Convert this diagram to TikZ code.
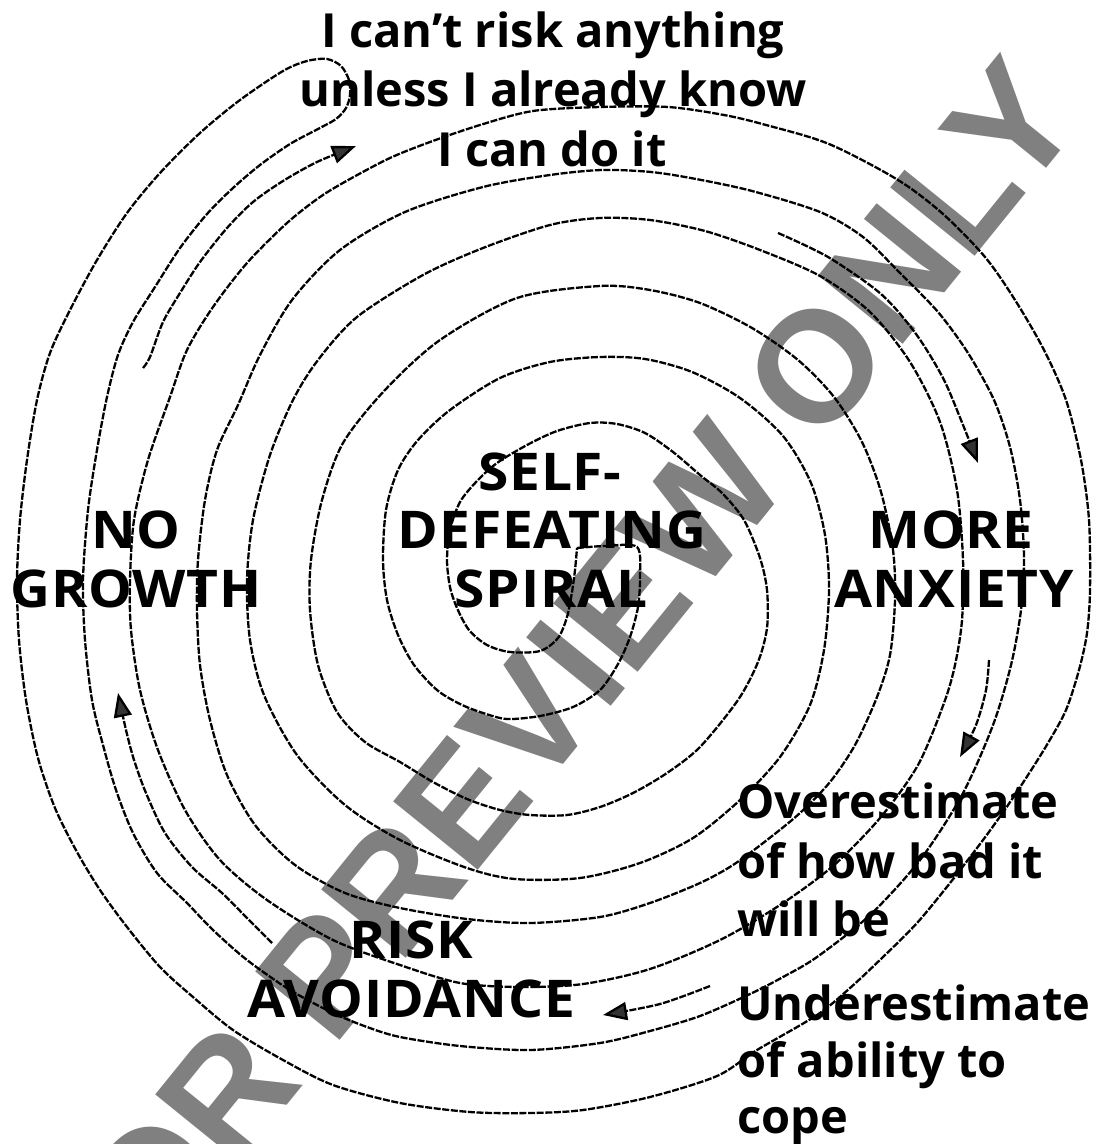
\documentclass[tikz,border=0pt]{standalone}
\usepackage{fontspec}
\setmainfont{Open Sans}
\newfontfamily\capfont{Open Sans}[FakeStretch=1.06, LetterSpace=1.5]
\newfontfamily\wmfont{Liberation Sans}
\usetikzlibrary{arrows.meta}
\tikzset{
  spiral/.style={line width=1.15pt, black, dash pattern=on 3.5pt off 0.8pt, line join=round},
  flow/.style={spiral, -{Triangle[length=12pt,width=9pt,fill=black!80]}},
  big/.style={font=\capfont\fontsize{26}{30}\selectfont\bfseries, inner sep=0pt, anchor=base},
  small/.style={font=\fontsize{23.5}{30}\selectfont\bfseries, inner sep=0pt},
  wm/.style={font=\wmfont\fontsize{79}{80}\selectfont\bfseries, text=black!50, rotate=51, inner sep=0pt}
}
\begin{document}
\begin{tikzpicture}[x=0.5pt,y=-0.5pt]
\useasboundingbox (0,0) rectangle (1096,1144);
\fill[white] (0,0) rectangle (1096,1144);
% watermark
\node[wm] (wmark) at (549,696) {FOR PREVIEW ONLY};
% double spiral
\draw[spiral] plot[smooth, tension=0.5] coordinates {
(577,548) (605,546) (637,547) (640,577) (638,607) (630,637) (618,664) (600,690) (573,707) (540,716) (507,719)
(483,713) (460,704) (437,690) (414,665) (398,635) (387,600) (383,560) (386,510) (398,470) (418,440) (450,410)
(500,378) (550,362) (600,357) (645,359) (692,372) (740,398) (783,436) (811,483) (825,535) (829,590) (824,650) (810,705)
(780,757) (740,800) (693,838) (640,863) (580,878) (515,879) (467,868) (400,840) (345,805) (297,755) (264,695) (250,640)
(247,580) (253,520) (270,455) (293,400) (318,360) (357,317) (423,275) (483,248) (550,225) (600,218) (650,220) (705,231)
(760,250) (820,276) (870,312) (910,362) (940,422) (957,490) (963,560) (962,620) (955,665) (944,703) (918,765) (880,818)
(833,866) (780,905) (720,940) (650,969) (583,984) (520,987) (460,983) (400,965) (333,940) (267,900) (220,860) (185,810)
(158,750) (140,690) (131,630) (130,580) (134,520) (148,460) (170,397) (187,350) (213,307) (247,263) (287,223) (320,197)
(350,179) (390,158) (430,142) (480,125) (533,111) (600,107) (668,107) (724,115) (766,125) (829,144) (898,180) (943,214)
(985,257) (1015,300) (1044,350) (1066,400) (1081,460) (1089,520) (1090,590) (1087,633) (1079,670) (1066,710) (1048,743)
(1028,775) (1006,808) (983,840) (950,883) (917,923) (883,957) (850,988) (817,1015) (757,1050) (717,1076) (650,1097)
(583,1110) (530,1113) (470,1112) (400,1103) (333,1085) (283,1060) (233,1030) (193,997) (160,967) (127,927) (100,890)
(77,852) (55,808) (38,758) (26,700) (19,640) (17,580) (20,520) (27,460) (37,400) (50,353) (70,310) (97,260) (127,213)
(160,173) (200,133) (240,100) (283,71) (307,61) (327,59) (341,66) (349,80) (350,95) (346,108) (336,119) (318,129)
(290,144) (260,165) (233,188) (207,214) (180,248) (155,287) (133,322) (118,355) (107,397) (97,450) (88,510) (83,580)
(85,640) (92,700) (103,745) (116,790) (133,833) (157,873) (187,903) (213,930) (247,960) (290,990) (333,1013) (367,1027)
(400,1037) (460,1046) (530,1050) (600,1043) (650,1031) (700,1016) (750,994) (783,977) (817,957) (870,915) (920,860)
(962,795) (993,725) (1011,665) (1021,610) (1024,557) (1020,500) (1010,447) (994,400) (968,353) (938,312) (900,273)
(863,237) (820,212) (752,191) (696,179) (651,172) (602,170) (550,175) (483,187) (405,212) (340,250) (292,300) (260,355)
(238,405) (217,450) (205,500) (198,560) (197,610) (200,665) (210,720) (227,775) (255,825) (295,865) (345,893) (400,908)
(467,919) (530,923) (600,917) (650,903) (700,883) (733,865) (767,840) (800,813) (830,782) (855,745) (877,697) (890,655)
(895,600) (893,550) (881,492) (862,442) (834,397) (798,360) (752,328) (700,303) (650,290) (600,286) (517,298) (440,340)
(385,390) (343,443) (322,500) (311,560) (310,610) (318,665) (337,712) (365,742) (400,762) (433,782) (467,799) (500,810)
(530,815) (567,815) (600,807) (633,793) (667,773) (700,747) (738,700) (758,662) (767,628) (767,590) (760,558) (744,520)
(722,493) (700,475) (673,452) (645,433) (617,424) (590,423) (557,431) (527,445) (497,463) (477,481) (460,502) (450,530)
(447,560) (450,587) (457,608) (469,630) (487,645) (510,652) (540,651) (558,638) (567,617) (572,592) (575,570) (577,548)};
% flow arrows
\draw[flow] plot[smooth] coordinates {(143,368) (150,357) (163,322) (180,293) (200,262) (227,228) (253,202) (283,181) (317,162) (356,146)};
\draw[flow] plot[smooth] coordinates {(778,233) (828,257) (881,294) (916,334) (943,378) (961,420) (978,463)};
\draw[flow] plot[smooth] coordinates {(989,660) (986,690) (976,725) (960,757)};
\draw[flow] plot[smooth] coordinates {(710,986) (660,1004) (603,1015)};
\draw[flow] plot[smooth] coordinates {(272,943) (249,920) (222,893) (192,867) (165,833) (146,793) (134,760) (126,730) (118,693)};
% labels
\node[small, anchor=base] (c1) at (553,48) {I can’t risk anything};
\node[small, anchor=base] (c2) at (553,107) {unless I already know};
\node[small, anchor=base] (c3) at (552,167) {I can do it};
\node[big] (nolab) at (136,548) {NO};
\node[big] (growth) at (136,607) {GROWTH};
\node[big] (self) at (550,490) {SELF-};
\node[big] (defeat) at (552,548) {DEFEATING};
\node[big] (spir) at (551,607) {SPIRAL};
\node[big] (more) at (951,548) {MORE};
\node[big] (anx) at (954,607) {ANXIETY};
\node[big] (risk) at (411,958) {RISK};
\node[big] (avoid) at (411,1017) {AVOIDANCE};
\node[small, anchor=base west] (o1) at (737,818) {Overestimate};
\node[small, anchor=base west] (o2) at (737,878) {of how bad it};
\node[small, anchor=base west] (o3) at (737,936) {will be};
\node[small, anchor=base west] (u1) at (737,1020) {Underestimate};
\node[small, anchor=base west] (u2) at (737,1077) {of ability to};
\node[small, anchor=base west] (u3) at (737,1133) {cope};
\end{tikzpicture}
\end{document}
